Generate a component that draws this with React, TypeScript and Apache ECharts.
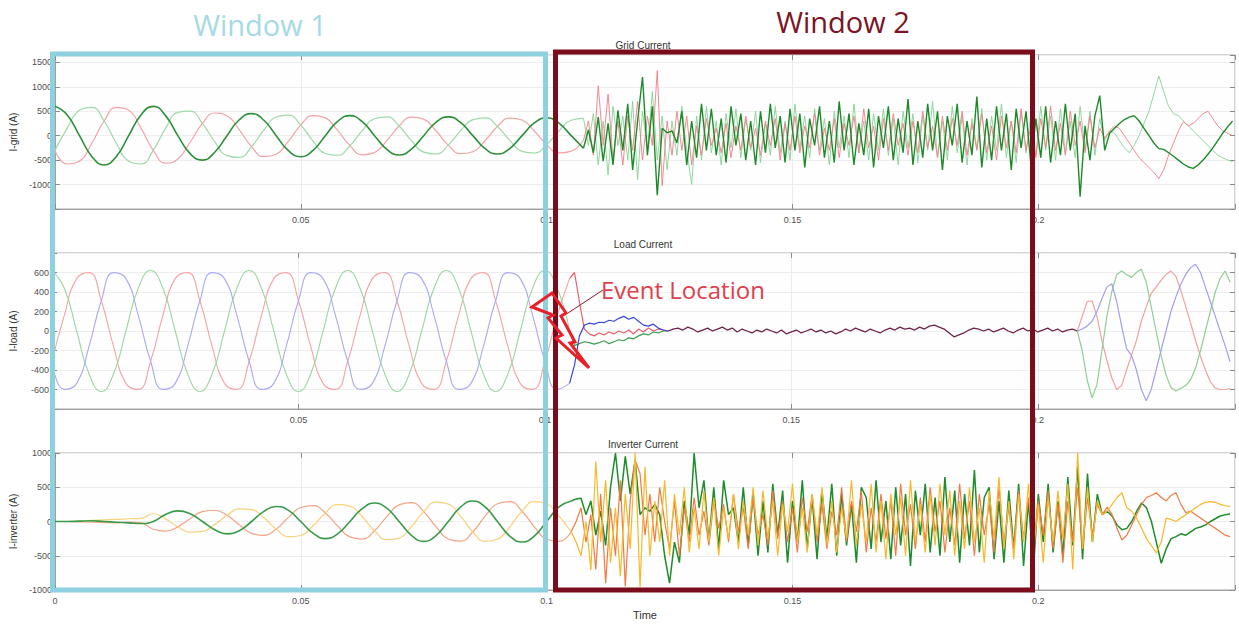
import React, { useEffect, useRef } from "react";
import * as echarts from "echarts";

// ---- time base ----
const X_MAX = 0.24;
const CLEAN_STEP = 0.0025; // s, sinusoidal part
const FINE_STEP = 0.001; // s, disturbed part
const GRID_FINE_T0 = 0.1075;
const LOAD_FINE_T0 = 0.105;
const LOAD_SETTLED_T0 = 0.125;
const LOAD_TAIL_T0 = 0.209;
const INV_FINE_T0 = 0.105;

// ---- Grid current (A) ----
const GRID_A_CLEAN = [-300, -580, -520, -155, 300, 580, 520, 155, -300, -560, -476, -135, 250, 464, 407, 119, -225, -430, -381, -113, 215, 411, 364, 107, -205, -391, -346, -103, 198, 379, 338, 100, -193, -369, -329, -98, 188, 360, 320, 95, -183, -353, -316, -94];
const GRID_B_CLEAN = [-300, 155, 520, 580, 300, -155, -520, -580, -300, 150, 476, 502, 250, -124, -407, -444, -225, 115, 381, 420, 215, -110, -364, -401, -205, 105, 346, 384, 198, -102, -338, -375, -193, 99, 329, 365, 188, -97, -320, -355, -183, 95, 316, 352];
const GRID_C_CLEAN = [600, 424, 0, -424, -600, -424, 0, 424, 600, 410, 0, -368, -500, -339, 0, 325, 450, 315, 0, -308, -430, -300, 0, 293, 410, 286, 0, -281, -395, -277, 0, 274, 385, 270, 0, -267, -375, -264, 0, 260, 365, 258, 0, -258];

const GRID_A_FINE = [
  -94, 300, -400, 1020, -200, 850, -500, 300, -600, 400,
  -300, 700, -500, 400, -200, 1330, -1020, 300, -400, 500,
  -300, 400, -600, 200, -400, 350, -200, 150, -350, 250,
  -450, 200, -300, 400, -250, 150, -400, 300, -200, 350,
  -500, 250, -300, 400, -350, 200, -250, 450, -400, 150,
  -300, 350, -450, 250, -200, 400, -350, 550, -250, 200,
  -500, 350, -300, 450, -200, 250, -400, 300, -350, 500,
  -250, 200, -450, 400, -300, 350, -200, 500, -400, 250,
  -300, 450, -350, 200, -500, 400, -250, 300, -350, 550,
  -300, 200, -450, 350, -250, 600, -300, 250, -400, 500,
  -200, 300, -350, 400, -250, 150, -50,
  100, 200, 150, 0, -150, -300, -450, -550, -650, -750, -880, -700, -400, -150, 100, 285, 200, 250, 350, 450, 500, 350, 200, 100, 50, 0,
];
const GRID_B_FINE = [
  352, -200, 450, -600, 300, -800, 600, -200, 400, -500,
  700, -900, 500, -300, 900, -500, 400, -700, 300, -400,
  600, -300, -1000, 400, -500, 600, -350, 300, -600, 450,
  -250, 550, -450, 350, -300, 500, -550, 250, -400, 600,
  -350, 300, -500, 650, -250, 400, -450, 550, -300, 350,
  -600, 500, -250, 400, -450, 650, -350, 300, -500, 450,
  -300, 550, -400, 350, -600, 500, -250, 450, -550, 400,
  -300, 700, -450, 300, -500, 600, -350, 400, -600, 350,
  -250, 550, -500, 400, -300, 650, -450, 300, -550, 500,
  -350, 450, -400, 600, -300, 400, -500, 550, -350, 300,
  -450, 600, -300, 500, -400, 350, -100,
  100, 50, -100, -250, -350, -200, 0, 250, 500, 850, 1220, 900, 600, 450, 410, 300, 200, 100, 0, -100, -200, -300, -400, -450, -500, -530,
];
const GRID_C_FINE = [
  -258, 120, -350, 380, -520, 250, -600, 520, -300, 650,
  -700, 300, 1200, -400, 600, -1220, 150, 60, 100, -150,
  500, -600, 300, -450, 650, -300, 550, -400, 350, -550,
  600, -200, 450, -500, 300, -600, 500, -350, 650, -250,
  400, -550, 550, -300, 450, -650, 350, -200, 600, -450,
  300, -550, 700, -300, 450, -600, 250, -400, 550, -650,
  400, -250, 600, -500, 350, -350, 750, -600, 300, -450,
  650, -300, 500, -700, 400, -200, 650, -550, 300, -400,
  800, -650, 350, -500, 600, -300, 450, -700, 550, -250,
  500, -600, 350, -450, 600, -550, 300, -400, 650, -300,
  450, -1250, 200, -500, 400, 820, -300,
  50, 150, 250, 330, 380, 410, 300, 150, 0, -150, -265, -280, -350, -420, -500, -580, -640, -670, -600, -500, -380, -250, -100, 50, 180, 300,
];

// ---- Load current (A) ----
const LOAD_A_CLEAN = [
  -310, 161, 537, 599, 310, -161, -537, -599, -310, 161, 537, 599, 310, -161, -537, -599,
  -310, 161, 537, 599, 310, -161, -537, -599, -310, 161, 537, 599, 310, -161, -537, -599,
  -310, 161, 537, 599, 310, -161, -537, -599, -310, 161, 537,
];
const LOAD_B_CLEAN = [
  620, 438, 0, -438, -620, -438, 0, 438, 620, 438, 0, -438, -620, -438, 0, 438,
  620, 438, 0, -438, -620, -438, 0, 438, 620, 438, 0, -438, -620, -438, 0, 438,
  620, 438, 0, -438, -620, -438, 0, 438, 620, 438, 0,
];
const LOAD_C_CLEAN = [
  -310, -599, -537, -161, 310, 599, 537, 161, -310, -599, -537, -161, 310, 599, 537, 161,
  -310, -599, -537, -161, 310, 599, 537, 161, -310, -599, -537, -161, 310, 599, 537, 161,
  -310, -599, -537, -161, 310, 599, 537, 161, -310, -599, -537,
];
const LOAD_A_TRANSIENT = [537, 600, 300, 20, -30, -50, -20, -40, -10, -30, 0, -20, 10, -30, 20, -10, 30, 0, 20, 10, 0];
const LOAD_B_TRANSIENT = [0, -150, -130, -110, -120, -135, -120, -100, -130, -110, -90, -100, -70, -80, -50, -30, -40, -10, -20, 0, 0];
const LOAD_C_TRANSIENT = [-537, -350, -50, 60, 80, 70, 90, 85, 110, 100, 130, 150, 120, 140, 100, 60, 50, 70, 30, 10, 0];
const LOAD_SETTLED = [
  0, 20, 30, 10, 40, 20, -10, 10, 30, 0, 20,
  40, 10, 30, -10, 20, 0, -20, 10, -10, 20,
  0, -20, 10, -30, -10, 10, -20, 0, 20, -10,
  10, -20, 0, -30, -10, 20, 0, 30, 10, -10,
  20, 0, -20, 10, 30, 10, 40, 20, 30, 10,
  40, 20, 50, 60, 40, 20, -20, -60, -40, -20,
  10, 30, 20, 0, 20, -10, 10, 30, 0, -20,
  10, 30, 0, 20, -10, 10, 30, 0, 20, -10,
  10, 20, 0,
];
const LOAD_A_TAIL = [150, 300, 310, 150, -100, -300, -480, -600, -560, -400, -250, -100, 100, 250, 385, 450, 520, 580, 615, 560, 420, 250, 80, -100, -260, -400, -520, -585, -600, -600, -590];
const LOAD_B_TAIL = [-200, -500, -685, -550, -200, 150, 400, 580, 615, 580, 550, 600, 635, 500, 250, 0, -250, -450, -580, -615, -590, -560, -500, -380, -200, 0, 200, 400, 540, 615, 500];
const LOAD_C_TAIL = [20, 50, 100, 200, 330, 450, 485, 300, 50, -180, -250, -400, -600, -715, -600, -400, -200, 0, 200, 350, 480, 580, 650, 685, 600, 450, 300, 150, 0, -150, -315];

// ---- Inverter current (A) ----
const INV_A_CLEAN = [0, 0, -5, -10, -15, -20, -10, -20, -113, -140, -78, 41, 143, 164, 90, -49, -173, -203, -110, 60, 204, 232, 125, -66, -225, -256, -135, 71, 242, 275, 145, -76, -255, -287, -150, 78, 260, 290, 150, -78, -260, -290, -150];
const INV_B_CLEAN = [0, 0, 5, 15, 25, 30, 40, 45, 113, 38, -78, -155, -143, -44, 90, 184, 173, 54, -110, -222, -204, -62, 125, 246, 225, 69, -135, -266, -242, -74, 145, 282, 255, 77, -150, -290, -260, -78, 150, 290, 260, 78, -150];
const INV_C_CLEAN = [0, 0, 5, 10, 0, -10, -20, -30, 0, 103, 155, 113, 0, -120, -180, -134, 0, 148, 220, 163, 0, -170, -250, -180, 0, 187, 270, 194, 0, -201, -290, -206, 0, 210, 300, 212, 0, -212, -300, -212, 0, 212, 300];

const INV_A_FINE = [
  -150, 0, 200, -300, 100, -700, 400, -900, 200, -500,
  600, -950, 300, 900, 700, -200, 400, -300, 500, 0,
  -400, 300, -500, 200, -300, 350, -200, 150, -350, 300,
  -100, 250, -300, 400, -150, 200, -400, 350, -200, 100,
  -350, 450, -250, 300, -300, 200, -450, 350, -150, 400,
  -300, 250, -400, 150, -200, 500, -300, 300, -150, 450,
  -450, 200, -300, 400, -250, 300, -500, 550, -200, 250,
  -400, 350, -300, 500, -150, 300, -450, 200, -350, 550,
  -250, 300, -500, 400, -200, 250, -450, 500, -300, 200,
  -400, 450, -250, 350, -350, 300, -200, 450, -400, 250,
  -600, 300, -300, 500, -400, 350, -200, 250, 100,
  210, 100, -100, -270, -200, -50, 100, 250, 350, 380, 420, 350, 300, 380, 420, 250, 130, 150, 100, 50, 0, -50, -100, -150, -200, -220,
];
const INV_B_FINE = [
  -150, -300, -500, 0, -710, 875, -300, 600, -600, 200,
  -800, 400, -400, 1000, -960, 800, -500, 300, -300, 600,
  -500, 400, -200, 500, -450, 200, -400, 450, -300, 350,
  -500, 200, -250, 400, -400, 300, -200, 500, -350, 450,
  -250, 300, -500, 250, -150, 550, -300, 200, -450, 400,
  -200, 500, -350, 300, -450, 200, -250, 600, -350, 250,
  -300, 550, -450, 300, -550, 400, -200, 350, -500, 600,
  -300, 250, -450, 400, -350, 550, -200, 450, -500, 300,
  -400, 500, -300, 200, -600, 450, -250, 650, -400, 300,
  -550, 400, -300, 550, -450, 250, -600, 350, -300, 450,
  -250, 550, -700, 1000, -400, 500, -300, 300, 100,
  150, 250, 350, 420, 200, 150, 50, -100, -250, -350, -460, -300, 50, 30, 0, 50, 100, 150, 200, 250, 280, 290, 280, 250, 230, 220,
];
const INV_C_FINE = [
  300, 330, 340, 100, 300, -200, 150, -350, 500, 1000,
  300, 950, 400, 900, 100, 200, 150, 250, 100, -500,
  -900, -300, -600, 300, -200, 1000, 200, 600, -300, 500,
  -400, 600, 100, 200, -300, 500, -350, 400, -500, 300,
  -450, 550, -200, 450, -600, 300, -300, 600, -400, 350,
  -550, 450, -250, 550, -500, 400, -350, 250, -600, 500,
  350, -400, 600, -300, 300, -550, 500, -350, 400, -650,
  450, -200, 550, -450, 350, -500, 650, -300, 450, -600,
  400, -350, 750, -450, 350, 500, -550, 300, -600, 450,
  -400, 550, -650, 300, -700, 400, -300, 550, -450, 300,
  -500, 650, -350, 800, -550, 700, -300, 400, 100,
  150, 80, -50, -120, -100, 0, 150, 270, 200, 0, -300, -610, -400, -250, -220, -180, -200, -150, -100, -80, -50, 0, 40, 80, 100, 110,
];

// ---- axis ticks / labels ----
const X_TICKS = [0.05, 0.1, 0.15, 0.2];
const GRID_Y_TICKS = [1500, 1000, 500, 0, -500, -1000];
const LOAD_Y_TICKS = [600, 400, 200, 0, -200, -400, -600];
const INV_Y_TICKS = [1000, 500, 0, -500, -1000];
const PANEL_TITLES = ["Grid Current", "Load Current", "Inverter Current"];
const Y_NAMES = ["I-grid (A)", "I-load (A)", "I-inverter (A)"];

const series = (t0: number, step: number, values: number[]) =>
  values.map((v, i) => [Math.round((t0 + i * step) * 1e6) / 1e6, v]);

const LABEL_FONT = "Liberation Sans";

function App() {
  const ref = useRef<HTMLDivElement>(null);

  useEffect(() => {
    if (!ref.current) return;
    const chart = echarts.init(ref.current, null, { renderer: "svg" });

    const panels = [
      { top: 55, height: 154, min: -1500, max: 1650, interval: 500, ticks: GRID_Y_TICKS },
      { top: 253, height: 156, min: -800, max: 800, interval: 200, ticks: LOAD_Y_TICKS },
      { top: 453, height: 137, min: -1000, max: 1000, interval: 500, ticks: INV_Y_TICKS },
    ];

    const grids = panels.map((p) => ({
      left: 52,
      right: 4,
      top: p.top,
      height: p.height,
      show: true,
      borderColor: "#a9a9a9",
      borderWidth: 1,
      backgroundColor: "#fefefe",
    }));

    const tick = { inside: true, length: 5, lineStyle: { color: "#8a8a8a" } };

    const xAxes: any[] = [];
    const yAxes: any[] = [];
    panels.forEach((p, g) => {
      const showZero = g === 2;
      xAxes.push({
        type: "value",
        gridIndex: g,
        min: 0,
        max: X_MAX,
        interval: 0.05,
        position: "bottom",
        axisLine: { show: true, onZero: false, lineStyle: { color: "#a0a0a0" } },
        axisTick: tick,
        splitLine: { show: true, lineStyle: { color: "#ececec" } },
        axisLabel: {
          fontSize: 9,
          fontFamily: LABEL_FONT,
          color: "#505050",
          margin: 6,
          formatter: (v: number) => {
            const r = Math.round(v * 100) / 100;
            if (X_TICKS.includes(r)) return String(r);
            if (showZero && r === 0) return "0";
            return "";
          },
        },
        name: g === 2 ? "Time" : "",
        nameLocation: "middle",
        nameGap: 19,
        nameTextStyle: { fontSize: 11, fontFamily: LABEL_FONT, color: "#333" },
      });
      xAxes.push({
        type: "value",
        gridIndex: g,
        min: 0,
        max: X_MAX,
        interval: 0.05,
        position: "top",
        axisLine: { show: false, onZero: false },
        axisTick: tick,
        splitLine: { show: false },
        axisLabel: { show: false },
      });
      yAxes.push({
        type: "value",
        gridIndex: g,
        min: p.min,
        max: p.max,
        interval: p.interval,
        position: "left",
        axisLine: { show: true, onZero: false, lineStyle: { color: "#a0a0a0" } },
        axisTick: { show: true, ...tick },
        splitLine: { show: true, lineStyle: { color: "#eeeeee" } },
        axisLabel: {
          fontSize: 9,
          fontFamily: LABEL_FONT,
          color: "#505050",
          margin: 3,
          formatter: (v: number) => (p.ticks.includes(v) ? String(v) : ""),
        },
        name: Y_NAMES[g],
        nameLocation: "middle",
        nameGap: 34,
        nameTextStyle: { fontSize: 10, fontFamily: LABEL_FONT, color: "#333" },
      });
      yAxes.push({
        type: "value",
        gridIndex: g,
        min: p.min,
        max: p.max,
        interval: p.interval,
        position: "right",
        axisLine: { show: false, onZero: false },
        axisTick: { show: true, ...tick },
        splitLine: { show: false },
        axisLabel: { show: false },
      });
    });

    const line = (
      name: string,
      g: number,
      data: number[][],
      color: string,
      width: number,
      smooth: boolean | number,
      z: number
    ) => ({
      type: "line",
      name,
      xAxisIndex: g * 2,
      yAxisIndex: g * 2,
      data,
      symbol: "none",
      showSymbol: false,
      smooth,
      z,
      silent: true,
      lineStyle: { color, width },
      itemStyle: { color },
    });

    const loadSettledEnd = LOAD_SETTLED[LOAD_SETTLED.length - 1];
    const settledLastT = LOAD_SETTLED_T0 + (LOAD_SETTLED.length - 1) * FINE_STEP;
    const tailWithJoin = (tail: number[]) => [
      [settledLastT, loadSettledEnd],
      ...series(LOAD_TAIL_T0, FINE_STEP, tail),
    ];

    const allSeries = [
      // grid current
      line("Ia grid", 0, series(0, CLEAN_STEP, GRID_A_CLEAN), "#f4a3a8", 1.2, true, 2),
      line("Ib grid", 0, series(0, CLEAN_STEP, GRID_B_CLEAN), "#9fd9a8", 1.2, true, 2),
      line("Ic grid", 0, series(0, CLEAN_STEP, GRID_C_CLEAN), "#2b8f3a", 1.6, true, 3),
      line("Ib grid", 0, series(GRID_FINE_T0, FINE_STEP, GRID_B_FINE), "#86d394", 0.9, false, 2),
      line("Ia grid", 0, series(GRID_FINE_T0, FINE_STEP, GRID_A_FINE), "#f27c88", 0.9, false, 2),
      line("Ic grid", 0, series(GRID_FINE_T0, FINE_STEP, GRID_C_FINE), "#1d8a29", 1.4, false, 3),

      // load current
      line("Ia load", 1, series(0, CLEAN_STEP, LOAD_A_CLEAN), "#f2a4a4", 1.1, true, 2),
      line("Ib load", 1, series(0, CLEAN_STEP, LOAD_B_CLEAN), "#9ed5a2", 1.1, true, 2),
      line("Ic load", 1, series(0, CLEAN_STEP, LOAD_C_CLEAN), "#a9a9f2", 1.1, true, 2),
      line("Ib load", 1, series(LOAD_FINE_T0, FINE_STEP, LOAD_B_TRANSIENT), "#3f9f4f", 1.2, false, 3),
      line("Ia load", 1, series(LOAD_FINE_T0, FINE_STEP, LOAD_A_TRANSIENT), "#e8606a", 1.2, false, 3),
      line("Ic load", 1, series(LOAD_FINE_T0, FINE_STEP, LOAD_C_TRANSIENT), "#3848d8", 1.2, false, 3),
      line("I load settled", 1, series(LOAD_SETTLED_T0, FINE_STEP, LOAD_SETTLED), "#6e2448", 1.3, false, 4),
      line("Ia load", 1, tailWithJoin(LOAD_A_TAIL), "#f2a0a0", 1.2, false, 2),
      line("Ib load", 1, tailWithJoin(LOAD_B_TAIL), "#8fcf95", 1.2, false, 2),
      line("Ic load", 1, tailWithJoin(LOAD_C_TAIL), "#a0a0f0", 1.2, false, 2),

      // inverter current
      line("Ia inv", 2, series(0, CLEAN_STEP, INV_A_CLEAN), "#f3a486", 1.2, true, 2),
      line("Ib inv", 2, series(0, CLEAN_STEP, INV_B_CLEAN), "#f8d27a", 1.2, true, 2),
      line("Ic inv", 2, series(0, CLEAN_STEP, INV_C_CLEAN), "#3a9a4a", 1.6, true, 3),
      line("Ic inv", 2, series(INV_FINE_T0, FINE_STEP, INV_C_FINE), "#1e8c2a", 1.5, false, 2),
      line("Ia inv", 2, series(INV_FINE_T0, FINE_STEP, INV_A_FINE), "#f07a42", 1.2, false, 3),
      line("Ib inv", 2, series(INV_FINE_T0, FINE_STEP, INV_B_FINE), "#f5b92a", 1.2, false, 3),
    ];

    const txt = (
      text: string,
      x: number,
      y: number,
      size: number,
      color: string,
      family: string,
      align = "center"
    ) => ({
      type: "text",
      x,
      y,
      z: 100,
      silent: true,
      style: {
        text,
        fill: color,
        fontSize: size,
        fontFamily: family,
        fontWeight: "normal",
        align,
        verticalAlign: "middle",
        textAlign: align,
        textVerticalAlign: "middle",
      },
    });

    const graphic: any[] = [
      txt(PANEL_TITLES[0], 643, 45, 10, "#333", LABEL_FONT),
      txt(PANEL_TITLES[1], 643, 244, 10, "#333", LABEL_FONT),
      txt(PANEL_TITLES[2], 643, 444, 10, "#333", LABEL_FONT),
      {
        type: "rect",
        z: 110,
        silent: true,
        shape: { x: 52.5, y: 54, width: 493, height: 536 },
        style: { fill: "none", stroke: "#8fd0de", lineWidth: 5 },
      },
      {
        type: "rect",
        z: 111,
        silent: true,
        shape: { x: 555.5, y: 52, width: 477, height: 538 },
        style: { fill: "none", stroke: "#7a0c1c", lineWidth: 5 },
      },
      txt("Window 1", 260, 24, 29, "#a6d9e6", "Open Sans"),
      txt("Window 2", 843, 21, 29, "#7a1426", "Open Sans"),
      {
        type: "line",
        z: 112,
        silent: true,
        shape: { x1: 603, y1: 290, x2: 568, y2: 313 },
        style: { stroke: "#8a1a2a", lineWidth: 1 },
      },
      {
        type: "polygon",
        z: 113,
        silent: true,
        shape: {
          points: [
            [532, 307],
            [552, 293],
            [566, 313],
            [561, 316],
            [575, 342],
            [570, 343],
            [589, 368],
            [556, 338],
            [562, 335],
            [548, 318],
            [553, 315],
          ],
        },
        style: { fill: "none", stroke: "#e8202a", lineWidth: 3, lineJoin: "miter" },
      },
      txt("Event Location", 601, 289, 24, "#e0404c", "Open Sans", "left"),
    ];

    chart.setOption({
      animation: false,
      backgroundColor: "#ffffff",
      grid: grids,
      xAxis: xAxes,
      yAxis: yAxes,
      series: allSeries,
      graphic,
    });

    return () => chart.dispose();
  }, []);

  return (
    <div
      ref={ref}
      style={{ position: "absolute", left: 0, top: 0, width: 1239, height: 625 }}
    />
  );
}

export default App;
